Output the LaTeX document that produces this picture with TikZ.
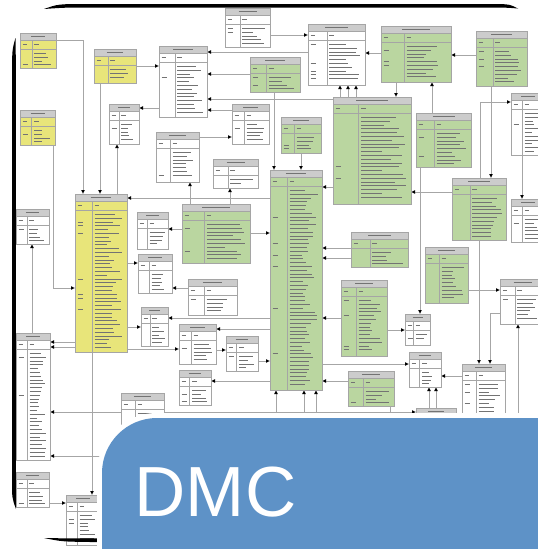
\documentclass[tikz,border=0pt]{standalone}
\usepackage{fontspec}
\newfontfamily\dmcfont{Liberation Sans}
\usetikzlibrary{arrows.meta}
\definecolor{entyellow}{RGB}{232,229,122}
\definecolor{entgreen}{RGB}{186,214,160}
\definecolor{hdrgray}{RGB}{204,204,204}
\definecolor{edgegray}{RGB}{165,165,165}
\definecolor{dmcblue}{RGB}{94,146,199}
\pgfdeclarelayer{bg}
\pgfsetlayers{bg,main}
\tikzset{
  entbox/.style={draw=edgegray, line width=0.8pt, inner sep=0pt, outer sep=0pt, rectangle},
  hdrfill/.style={fill=hdrgray},
  rowline/.style={draw=edgegray, line width=0.6pt},
  txt/.style={draw=black!55, line width=1pt},
  fk/.style={draw=black!35, line width=0.9pt, -{Latex[length=4pt,width=4pt,color=black]}},
  dmc/.style={text=white, font=\dmcfont\fontsize{71}{71}\selectfont, inner sep=0pt, anchor=base west}
}
\newcommand\entity[6]{%
  \node[entbox, fill=#6, minimum width={(#4-#2)*1pt}, minimum height={(#5-#3)*1pt}, anchor=north west] (#1) at (#2,#3) {};
  \pgfmathsetmacro\ekx{#2+0.33*(#4-#2)}%
  \pgfmathsetmacro\ecx{(#2+#4)/2}%
  \pgfmathsetmacro\ehw{0.2*(#4-#2)}%
  \fill[hdrfill] (#2,#3) rectangle (#4,#3+7);
  \draw[rowline] (#2,#3+7) -- (#4,#3+7);
  \draw[rowline] (#2,#3+16) -- (#4,#3+16);
  \draw[rowline] (\ekx,#3+7) -- (\ekx,#5);
  \draw[entbox] (#2,#3) rectangle (#4,#5);
  \draw[txt] (\ecx-\ehw,#3+3.5) -- (\ecx+\ehw,#3+3.5);
  \draw[txt] (#2+2.5,#3+11.5) -- (#2+7,#3+11.5);
  \draw[txt] (\ekx+2.5,#3+11.5) -- (\ekx+7,#3+11.5);
  \pgfmathsetmacro\eya{#3+20.5}%
  \pgfmathsetmacro\eyb{#3+24.3}%
  \pgfmathsetmacro\eye{#5-3}%
  \foreach \yy in {\eya,\eyb,...,\eye}{%
    \pgfmathsetmacro\elen{(0.4+0.55*rnd)*(#4-\ekx-5)}%
    \draw[txt] (\ekx+2.5,\yy) -- ++(\elen,0);
    \pgfmathtruncatemacro\ekk{rnd<0.2 ? 1 : 0}%
    \ifnum\ekk=1 \draw[txt] (#2+2.5,\yy) -- (#2+8,\yy);\fi
  }%
}
\begin{document}
\begin{tikzpicture}[x=1pt,y=-1pt]
\pgfmathsetseed{12}
\useasboundingbox (0,0) rectangle (538,549);
% entities
\entity{A}{20}{33}{56}{68}{entyellow}
\entity{A2}{20}{110}{55}{145}{entyellow}
\entity{B}{94}{49}{136}{83}{entyellow}
\entity{C}{159}{46}{207}{117}{white}
\entity{D}{225}{8}{270}{47}{white}
\entity{E}{250}{57}{300}{92}{entgreen}
\entity{F}{109}{104}{139}{144}{white}
\entity{G}{232}{104}{269}{144}{white}
\entity{H}{156}{132}{199}{182}{white}
\entity{I}{213}{159}{258}{188}{white}
\entity{J}{75}{194}{127}{352}{entyellow}
\entity{K}{16}{209}{49}{244}{white}
\entity{L}{137}{212}{168}{249}{white}
\entity{M}{182}{204}{250}{263}{entgreen}
\entity{N}{270}{170}{322}{390}{entgreen}
\entity{O}{138}{254}{172}{293}{white}
\entity{P}{308}{24}{365}{85}{white}
\entity{Q}{381}{26}{451}{82}{entgreen}
\entity{R}{476}{31}{527}{86}{entgreen}
\entity{S}{333}{97}{411}{204}{entgreen}
\entity{T}{281}{117}{321}{153}{entgreen}
\entity{U}{416}{113}{471}{167}{entgreen}
\entity{V}{511}{93}{545}{155}{white}
\entity{W}{452}{178}{506}{240}{entgreen}
\entity{X}{511}{199}{545}{242}{white}
\entity{Y}{351}{232}{408}{267}{entgreen}
\entity{Z}{425}{247}{468}{303}{entgreen}
\entity{AA}{188}{279}{237}{315}{white}
\entity{AB}{141}{307}{168}{346}{white}
\entity{AC}{179}{324}{216}{364}{white}
\entity{AD}{226}{336}{258}{371}{white}
\entity{AE}{16}{333}{50}{460}{white}
\entity{AF}{179}{370}{211}{405}{white}
\entity{AG}{121}{393}{164}{430}{white}
\entity{AH}{16}{472}{49}{507}{white}
\entity{AI}{66}{495}{100}{545}{white}
\entity{AJ}{341}{280}{387}{356}{entgreen}
\entity{AK}{500}{279}{545}{324}{white}
\entity{AL}{405}{314}{430}{345}{white}
\entity{AM}{409}{352}{441}{387}{white}
\entity{AN}{462}{364}{505}{430}{white}
\entity{AO}{348}{371}{394}{406}{entgreen}
\entity{BB}{416}{408}{456}{440}{white}
% free ends
\coordinate (b1) at (276,418);
\coordinate (b2) at (304,418);
\coordinate (b3) at (316,418);
\coordinate (b4) at (390,418);
\coordinate (b5) at (429,418);
\coordinate (b6) at (436,418);
\coordinate (b7) at (518,418);
\coordinate (e1) at (100,456);
\begin{pgfonlayer}{bg}
\fill[white] (0,0) rectangle (538,549);
\draw[fk] (A.east |- 0,40) -| (J.north -| 83,0);
\draw[fk] (B.south -| 100,0) -- (J.north -| 100,0);
\draw[fk] (B.east |- 0,66) -- (C.west |- 0,66);
\draw[fk] (C.west |- 0,108) -- (F.east |- 0,108);
\draw[fk] (J.north -| 117,0) -- (F.south -| 117,0);
\draw[fk] (G.west |- 0,110) -- (C.east |- 0,110);
\draw[fk] (S.west |- 0,99) -- (C.east |- 0,99);
\draw[fk] (P.west |- 0,52) -- (C.east |- 0,52);
\draw[fk] (D.east |- 0,35) -- (P.west |- 0,35);
\draw[fk] (E.west |- 0,74) -- (C.east |- 0,74);
\draw[fk] (H.east |- 0,137) -- (G.west |- 0,137);
\draw[fk] (N.west |- 0,198) -- (J.east |- 0,198);
\draw[fk] (M.north -| 190,0) -- (H.south -| 190,0);
\draw[fk] (M.north -| 230,0) -- (I.south -| 230,0);
\draw[fk] (M.west |- 0,229) -- (L.east |- 0,229);
\draw[fk] (M.east |- 0,233) -- (N.west |- 0,233);
\draw[fk] (J.east |- 0,263) -- (O.west |- 0,263);
\draw[fk] (Q.west |- 0,53) -- (P.east |- 0,53);
\draw[fk] (R.west |- 0,55) -- (Q.east |- 0,55);
\draw[fk] (S.north -| 340,0) -- (P.south -| 340,0);
\draw[fk] (S.north -| 348,0) -- (P.south -| 348,0);
\draw[fk] (S.north -| 356,0) -- (P.south -| 356,0);
\draw[fk] (Q.south -| 396,0) -- (S.north -| 396,0);
\draw[fk] (U.north -| 432,0) -- (Q.south -| 432,0);
\draw[fk] (E.south -| 274,0) -- (N.north -| 274,0);
\draw[fk] (T.south -| 301,0) -- (N.north -| 301,0);
\draw[fk] (S.west |- 0,187) -- (N.east |- 0,187);
\draw[fk] (W.west |- 0,192) -- (S.east |- 0,192);
\draw[fk] (R.south -| 491,0) -- (W.north -| 491,0);
\draw[fk] (W.north -| 480,0) |- (V.west |- 0,102);
\draw[fk] (V.south -| 522,0) -- (X.north -| 522,0);
\draw[fk] (Y.west |- 0,248) -- (N.east |- 0,248);
\draw[fk] (Y.west |- 0,258) -- (N.east |- 0,258);
\draw[fk] (Z.east |- 0,290) -- (AK.west |- 0,290);
\draw[fk] (U.south -| 420,0) -- (AL.north -| 420,0);
\draw[fk] (AJ.east |- 0,330) -- (AL.west |- 0,330);
\draw[fk] (AJ.west |- 0,318) -- (N.east |- 0,318);
\draw[fk] (N.east |- 0,364) -- (AM.west |- 0,364);
\draw[fk] (AO.west |- 0,381) -- (N.east |- 0,381);
\draw[fk] (AN.west |- 0,376) -- (AM.east |- 0,376);
\draw[fk] (W.south -| 479,0) -- (AN.north -| 479,0);
\draw[fk] (AK.west |- 0,313) -| (AN.north -| 490,0);
\draw[fk] (b1) -- (N.south -| b1);
\draw[fk] (b2) -- (N.south -| b2);
\draw[fk] (b3) -- (N.south -| b3);
\draw[draw=black!35, line width=0.9pt] (AO.south -| b4) -- (b4);
\draw[fk] (b5) -- (AM.south -| b5);
\draw[fk] (b6) -- (AM.south -| b6);
\draw[fk] (b7) -- (AK.south -| b7);
\draw[fk] (AG.west |- 0,412) -- (AE.east |- 0,412);
\draw[fk] (AG.east |- 0,412) -- (BB.west |- 0,412);
\draw[fk] (e1) -- (AE.east |- e1);
\draw[fk] (J.south -| 92,0) -- (AI.north -| 92,0);
\draw[fk] (AH.east |- 0,503) -- (AI.west |- 0,503);
\draw[fk] (A2.south -| 53,0) |- (J.west |- 0,288);
\draw[fk] (AE.north -| 32,0) -- (K.south -| 32,0);
\draw[fk] (J.west |- 0,342) -- (AE.east |- 0,342);
\draw[fk] (J.west |- 0,347) -- (AE.east |- 0,347);
\draw[fk] (J.east |- 0,327) -- (AB.west |- 0,327);
\draw[fk] (J.east |- 0,349) -- (AC.west |- 0,349);
\draw[fk] (AC.east |- 0,350) -- (AD.west |- 0,350);
\draw[fk] (AA.west |- 0,288) -- (O.east |- 0,288);
\draw[fk] (N.west |- 0,318) -- (AB.east |- 0,318);
\draw[fk] (N.west |- 0,329) -- (AC.east |- 0,329);
\draw[fk] (AD.east |- 0,361) -- (N.west |- 0,361);
\draw[fk] (N.west |- 0,381) -- (AF.east |- 0,381);
\end{pgfonlayer}
% page frame shadow edges
\fill[black] (44,9) .. controls (58,4) .. (90,4) -- (500,4) .. controls (510,4.5) .. (518,8.5) .. controls (505,7.5) .. (485,7.5) -- (95,7.5) .. controls (65,7.5) .. (44,9) -- cycle;
\fill[black] (15.5,38) .. controls (12,50) .. (12,80) -- (12,480) .. controls (12,498) .. (16,509) .. controls (15.5,495) .. (15.8,480) -- (15.8,80) .. controls (15.8,55) .. (15.5,38) -- cycle;
\fill[black] (44,538) .. controls (58,538.3) .. (90,538.3) -- (110,538.3) -- (110,542) -- (90,542) .. controls (62,541.6) .. (44,538) -- cycle;
% label panel
\fill[white] (97,549) -- (97,473) arc (180:270:60) -- (538,413) -- (538,549) -- cycle;
\fill[dmcblue] (102,549) -- (102,473) arc (180:270:55) -- (538,418) -- (538,549) -- cycle;
\node[dmc] (dmc) at (134.5,516) {DMC};
\end{tikzpicture}
\end{document}
